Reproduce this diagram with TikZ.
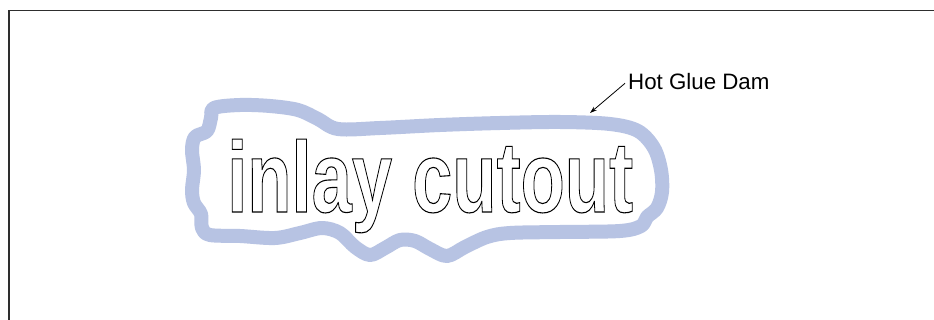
\documentclass[tikz,border=0pt]{standalone}
\usepackage{fontspec}
\usepackage{graphicx}
\setmainfont{Liberation Sans}
\newfontfamily\cutfont{Liberation Sans}
\usetikzlibrary{arrows.meta}
\definecolor{damblue}{HTML}{B7C3E3}
\definecolor{framegray}{HTML}{2E2E2E}
\newcommand{\outlinetext}[1]{\special{pdf:literal direct 1 Tr 1.1 w}#1\special{pdf:literal direct 0 Tr}}
\tikzset{
  dam/.style={draw=damblue, line width=14pt, line join=round},
  frameline/.style={draw=framegray, line width=1.6pt},
  callout/.style={draw=black, line width=0.8pt, -{Stealth[length=7pt,width=4.5pt]}},
  lbl/.style={inner sep=0pt, font=\fontsize{22.3}{26}\selectfont},
  cut/.style={inner sep=0pt}
}
\begin{document}
\begin{tikzpicture}[x=1pt,y=-1pt]
\useasboundingbox (0,0) rectangle (934,320);
\fill[white] (0,0) rectangle (934,320);
% frame
\coordinate (fbl) at (9,321);
\coordinate (ftl) at (9,10.5);
\coordinate (ftr) at (935,10.5);
\draw[frameline] (fbl) -- (ftl) -- (ftr);
% hot glue dam
\draw[dam] plot[smooth cycle, tension=0.55] coordinates {
(214,108) (240,105) (270,106) (298,110) (318,119) (338,129) (380,128) (440,125)
(500,123) (560,122) (610,124) (638,131) (654,148) (661,170) (662,192) (657,208)
(647,217) (641,226) (620,231) (560,232) (510,233) (487,237) (465,247) (447,256)
(430,249) (415,241) (400,240) (385,248) (370,255) (355,247) (340,233) (322,228)
(300,233) (275,238) (240,236)
(210,235) (202,228) (201,214) (194,203) (192,190) (194,170) (192,150) (195,137)
(207,131) (211,118)};
% inlay cutout text
\node[cut, anchor=base west] (cutout) at (227,212)
  {\scalebox{0.72}[1]{\cutfont\bfseries\fontsize{100.5}{110}\selectfont\outlinetext{inlay cutout}}};
% label
\node[lbl, anchor=base west] (label) at (628,89.3) {Hot Glue Dam};
\coordinate (tip) at (590,113);
\draw[callout] ([xshift=-3pt,yshift=6pt]label.base west) -- (tip);
\end{tikzpicture}
\end{document}
